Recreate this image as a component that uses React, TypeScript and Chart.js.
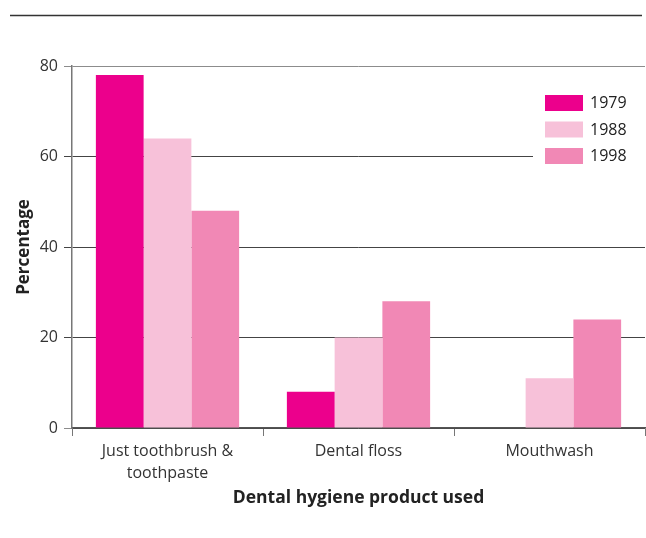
import React, { useEffect, useRef } from "react";
import { Chart, registerables } from "chart.js";

Chart.register(...registerables);

// Categories and survey values (percent of respondents)
const categories: (string | string[])[] = [
  ["Just toothbrush &", "toothpaste"],
  "Dental floss",
  "Mouthwash",
];
const years = ["1979", "1988", "1998"];
const values1979 = [78, 8, 0];
const values1988 = [64, 20, 11];
const values1998 = [48, 28, 24];
const yTicks = [0, 20, 40, 60, 80];

const colors = ["#ec008c", "#f7c1d9", "#f188b5"];
const FONT = "'Open Sans', 'Liberation Sans', sans-serif";

// Rule across the top of the figure
const topRule = {
  id: "topRule",
  afterDraw(chart: Chart) {
    const ctx = chart.ctx;
    ctx.save();
    ctx.strokeStyle = "#333";
    ctx.lineWidth = 1.5;
    ctx.beginPath();
    ctx.moveTo(10, 15.5);
    ctx.lineTo(642, 15.5);
    ctx.stroke();
    ctx.restore();
  },
};

// Legend box inside the plot area, top right
const insideLegend = {
  id: "insideLegend",
  afterDatasetsDraw(chart: Chart) {
    const ctx = chart.ctx;
    const area = chart.chartArea;
    ctx.save();
    ctx.fillStyle = "#fff";
    ctx.fillRect(533, 86, area.right - 533 + 1, 84);
    const x0 = 545;
    const y0 = 95;
    const rowGap = 26.5;
    ctx.font = `16px ${FONT}`;
    ctx.textBaseline = "middle";
    ctx.textAlign = "left";
    chart.data.datasets.forEach((ds, i) => {
      const y = y0 + i * rowGap;
      ctx.fillStyle = ds.backgroundColor as string;
      ctx.fillRect(x0, y, 38, 16);
      ctx.fillStyle = "#222";
      ctx.fillText(String(ds.label), x0 + 45, y + 8.5);
    });
    ctx.restore();
  },
};

export default function App() {
  const ref = useRef<HTMLCanvasElement | null>(null);

  useEffect(() => {
    document.body.style.margin = "0";
    const canvas = ref.current;
    if (!canvas) return;
    const series = [values1979, values1988, values1998];
    const chart = new Chart(canvas, {
      type: "bar",
      data: {
        labels: categories,
        datasets: years.map((y, i) => ({
          label: y,
          data: series[i],
          backgroundColor: colors[i],
          borderWidth: 0,
          barPercentage: 1,
          categoryPercentage: 0.75,
        })),
      },
      options: {
        responsive: false,
        animation: false,
        layout: { padding: { top: 66, right: 1, left: 0, bottom: 0 } },
        plugins: {
          legend: { display: false },
          tooltip: { enabled: false },
        },
        scales: {
          x: {
            afterFit: (s: any) => {
              s.height = 110;
            },
            grid: {
              display: true,
              drawOnChartArea: false,
              drawTicks: true,
              tickLength: 8,
              color: "#777",
              offset: true,
            },
            border: { color: "#555", width: 1.5 },
            ticks: {
              color: "#333",
              padding: 4,
              font: { family: FONT, size: 16, lineHeight: 1.4 },
              maxRotation: 0,
            },
            title: {
              display: true,
              text: "Dental hygiene product used",
              color: "#222",
              font: { family: FONT, size: 17.5, weight: "bold" },
              padding: { top: 0, bottom: 29 },
            },
          },
          y: {
            min: 0,
            max: 80,
            afterFit: (s: any) => {
              s.width = 72;
            },
            afterBuildTicks: (s: any) => {
              s.ticks = yTicks.map((v) => ({ value: v }));
            },
            grid: {
              color: (c: any) => (c.tick && c.tick.value === 80 ? "#8c8c8c" : "#444"),
              tickColor: (c: any) =>
                c.tick && (c.tick.value === 80 || c.tick.value === 0) ? "#8c8c8c" : "#444",
              tickLength: 8,
              lineWidth: 1,
            },
            border: { color: "#777", width: 1.5 },
            ticks: {
              color: "#333",
              padding: 6,
              font: { family: FONT, size: 16 },
            },
            title: {
              display: true,
              text: "Percentage",
              color: "#222",
              font: { family: FONT, size: 17, weight: "bold" },
              padding: { top: 14, bottom: 0 },
            },
          },
        },
      },
      plugins: [topRule, insideLegend],
    });
    return () => chart.destroy();
  }, []);

  return <canvas ref={ref} width={646} height={538} style={{ display: "block" }} />;
}
